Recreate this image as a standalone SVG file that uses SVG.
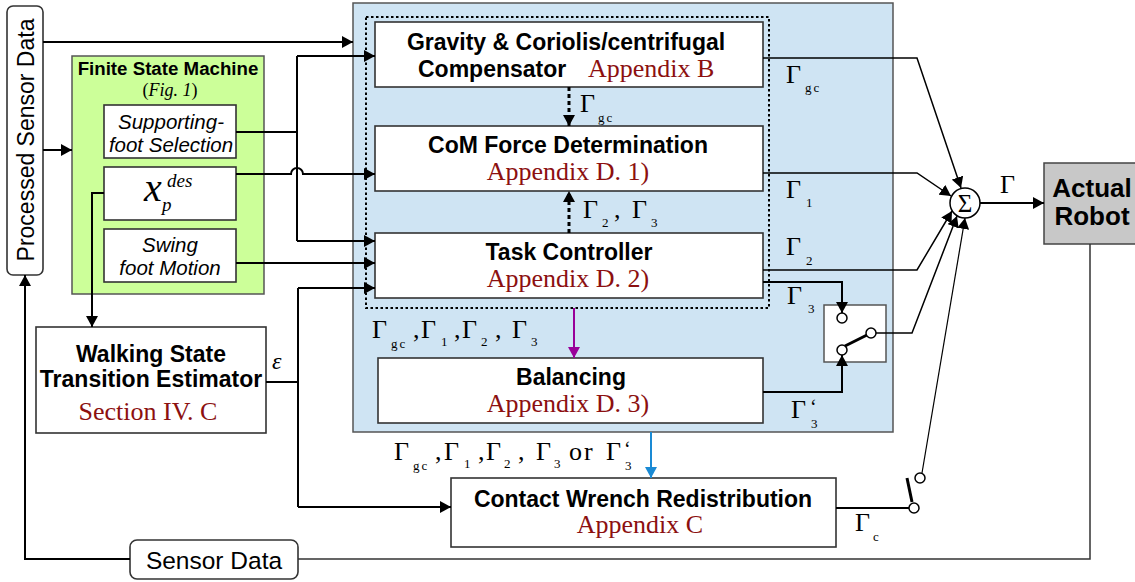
<svg xmlns="http://www.w3.org/2000/svg" width="1135" height="582" viewBox="0 0 1135 582">
<style>
.box{fill:#fff;stroke:#333;stroke-width:1.6}
.t{font-family:"Liberation Sans",Arial,sans-serif;font-weight:bold;font-size:23px;fill:#000;text-anchor:middle}
.r{font-family:"Liberation Serif","Times New Roman",serif;font-size:26px;fill:#8c1010;text-anchor:middle}
.it{font-family:"Liberation Sans",Arial,sans-serif;font-style:italic;font-size:20.5px;fill:#000;text-anchor:middle}
.g{font-family:"Liberation Serif","Times New Roman",serif;font-size:26px;fill:#000}
.s{font-size:13px;letter-spacing:2px}
.ln{fill:none;stroke:#000;stroke-width:2}
.thin{fill:none;stroke:#000;stroke-width:1.5}
.sw{fill:#fff;stroke:#000;stroke-width:1.5}
</style>
<defs>
<marker id="a" markerUnits="userSpaceOnUse" markerWidth="12" markerHeight="12" refX="11" refY="6" orient="auto"><path d="M0,0 L11,6 L0,12 z" fill="#000"/></marker>
<marker id="ap" markerUnits="userSpaceOnUse" markerWidth="12" markerHeight="12" refX="11" refY="6" orient="auto"><path d="M0,0 L11,6 L0,12 z" fill="#990099"/></marker>
<marker id="ab" markerUnits="userSpaceOnUse" markerWidth="12" markerHeight="12" refX="11" refY="6" orient="auto"><path d="M0,0 L11,6 L0,12 z" fill="#1a8ad4"/></marker>
</defs>
<rect width="1135" height="582" fill="#fff"/>

<g id="controller-frame">
<rect x="353" y="3" width="540" height="429" fill="#cfe4f3" stroke="#555" stroke-width="1.5"/>
<rect x="366" y="17" width="403" height="291" fill="none" stroke="#000" stroke-width="2" stroke-dasharray="2.5,2.5"/>
</g>

<g id="processed-sensor-data">
<rect x="7" y="6" width="36" height="269" rx="6" class="box"/>
<text transform="translate(34,140) rotate(-90)" font-family="Liberation Sans,Arial,sans-serif" font-size="23" text-anchor="middle">Processed Sensor Data</text>
</g>

<g id="fsm">
<rect x="72" y="56" width="192" height="238" fill="#ccff99" stroke="#555" stroke-width="1.5"/>
<text x="168" y="75" class="t" style="font-size:18.7px">Finite State Machine</text>
<text x="170" y="96" font-family="Liberation Serif,Times New Roman,serif" font-size="18" text-anchor="middle">(<tspan font-style="italic">Fig. 1</tspan>)</text>
</g>
<g id="supporting-foot">
<rect x="104" y="105" width="132" height="53" class="box"/>
<text x="171" y="129" class="it">Supporting-</text>
<text x="171" y="152" class="it">foot Selection</text>
</g>
<g id="xpdes">
<rect x="104" y="167" width="132" height="53" class="box"/>
<text x="144" y="201" font-family="Liberation Serif,Times New Roman,serif" font-style="italic" font-size="40">x</text>
<text x="167" y="187" font-family="Liberation Serif,Times New Roman,serif" font-style="italic" font-size="19">des</text>
<text x="162" y="211" font-family="Liberation Serif,Times New Roman,serif" font-style="italic" font-size="19">p</text>
</g>
<g id="swing-foot">
<rect x="104" y="229" width="132" height="53" class="box"/>
<text x="170" y="252" class="it">Swing</text>
<text x="170" y="275" class="it">foot Motion</text>
</g>

<g id="walking-state">
<rect x="36" y="327" width="230" height="106" class="box"/>
<text x="151" y="362" class="t">Walking State</text>
<text x="151" y="387" class="t">Transition Estimator</text>
<text x="148" y="420" class="r">Section IV. C</text>
</g>

<g id="sensor-data">
<rect x="130" y="540" width="168" height="39" rx="7" class="box"/>
<text x="214" y="569" font-family="Liberation Sans,Arial,sans-serif" font-size="24.5" text-anchor="middle">Sensor Data</text>
</g>

<g id="gravity">
<rect x="375" y="22" width="388" height="65" class="box"/>
<text x="566" y="50" class="t">Gravity &amp; Coriolis/centrifugal</text>
<text x="418" y="77" class="t" style="text-anchor:start">Compensator</text>
<text x="588" y="77" class="r" style="text-anchor:start">Appendix B</text>
</g>
<g id="com-force">
<rect x="375" y="126" width="388" height="65" class="box"/>
<text x="568" y="153" class="t">CoM Force Determination</text>
<text x="568" y="180" class="r">Appendix D. 1)</text>
</g>
<g id="task-controller">
<rect x="375" y="233" width="388" height="65" class="box"/>
<text x="569" y="260" class="t">Task Controller</text>
<text x="568" y="287" class="r">Appendix D. 2)</text>
</g>
<g id="balancing">
<rect x="378" y="358" width="385" height="65" class="box"/>
<text x="571" y="385" class="t">Balancing</text>
<text x="568" y="412" class="r">Appendix D. 3)</text>
</g>
<g id="contact-wrench">
<rect x="451" y="478" width="385" height="69" class="box"/>
<text x="643" y="507" class="t">Contact Wrench Redistribution</text>
<text x="640" y="533" class="r">Appendix C</text>
</g>
<g id="sum">
<circle cx="965" cy="203" r="15" fill="#fff" stroke="#000" stroke-width="1.5"/>
<text x="965" y="212" font-family="Liberation Serif,Times New Roman,serif" font-size="25" text-anchor="middle">Σ</text>
</g>
<g id="actual-robot">
<rect x="1044" y="163" width="100" height="81" fill="#c8c8c8" stroke="#444" stroke-width="1.5"/>
<text x="1092" y="197" class="t" style="font-size:26px">Actual</text>
<text x="1092" y="225" class="t" style="font-size:26px">Robot</text>
</g>
<g id="switch-1">
<rect x="824" y="305" width="62" height="57" fill="#fff" stroke="#555" stroke-width="1.5"/>
<line x1="845" y1="346" x2="867" y2="335" stroke="#000" stroke-width="3"/>
<circle cx="842" cy="318" r="5" class="sw"/>
<circle cx="842" cy="350" r="5" class="sw"/>
<circle cx="871" cy="333" r="5" class="sw"/>
</g>
<g id="switch-2">
<line x1="907" y1="478" x2="912" y2="502" stroke="#000" stroke-width="3"/>
<circle cx="914" cy="508" r="5" class="sw"/>
<circle cx="920" cy="478" r="5" class="sw"/>
</g>

<g id="connectors">
<path class="ln" d="M43,42 H353" marker-end="url(#a)"/>
<path class="ln" d="M43,150 H72" marker-end="url(#a)"/>
<path class="ln" d="M236,132 H297"/>
<path class="ln" d="M297,56 V241"/>
<path class="ln" d="M297,56 H375" marker-end="url(#a)"/>
<path class="ln" d="M297,241 H375" marker-end="url(#a)"/>
<path class="ln" d="M236,174 H291 A6,6 0 0 1 303,174 H375" marker-end="url(#a)"/>
<path class="ln" d="M236,263 H375" marker-end="url(#a)"/>
<path class="ln" d="M104,193 H92 V327" marker-end="url(#a)"/>
<path class="ln" d="M266,382 H298"/>
<path class="ln" d="M298,288 V507"/>
<path class="ln" d="M298,288 H375" marker-end="url(#a)"/>
<path class="ln" d="M298,507 H451" marker-end="url(#a)"/>
<path class="ln" d="M130,559 H25 V275" marker-end="url(#a)"/>
<path d="M298,559 H1090 V244" fill="none" stroke="#333" stroke-width="1.5"/>
<path d="M569,87 V126" stroke="#000" stroke-width="3" stroke-dasharray="4,3" fill="none" marker-end="url(#a)"/>
<path d="M569,233 V191" stroke="#000" stroke-width="3" stroke-dasharray="4,3" fill="none" marker-end="url(#a)"/>
<path d="M574,308 V358" stroke="#990099" stroke-width="2" fill="none" marker-end="url(#ap)"/>
<path d="M651,432 V478" stroke="#1a8ad4" stroke-width="2" fill="none" marker-end="url(#ab)"/>
<path class="thin" d="M763,58 H917 L961,188" marker-end="url(#a)"/>
<path class="thin" d="M763,173 H917 L951,196" marker-end="url(#a)"/>
<path class="thin" d="M763,270 H917 L952,211" marker-end="url(#a)"/>
<path class="ln" d="M763,282 H842 V313" marker-end="url(#a)"/>
<path class="ln" d="M763,392 H842 V355" marker-end="url(#a)"/>
<path class="thin" d="M876,333 H912 L957,216" marker-end="url(#a)"/>
<path class="ln" d="M836,508 H909"/>
<path d="M922,473 L965,218" fill="none" stroke="#000" stroke-width="1.2" marker-end="url(#a)"/>
<path class="ln" d="M980,203 H1044" marker-end="url(#a)"/>
</g>

<g id="labels">
<text class="g" x="580" y="112">Γ<tspan class="s" x="598" y="122">gc</tspan></text>
<text class="g" x="583" y="218">Γ<tspan class="s" x="602" y="227">2</tspan><tspan x="614" y="218">,</tspan><tspan x="632" y="218">Γ</tspan><tspan class="s" x="651" y="227">3</tspan></text>
<text class="g" x="786" y="83">Γ<tspan class="s" x="805" y="92">gc</tspan></text>
<text class="g" x="786" y="198">Γ<tspan class="s" x="806" y="207">1</tspan></text>
<text class="g" x="786" y="255">Γ<tspan class="s" x="806" y="265">2</tspan></text>
<text class="g" x="787" y="304">Γ<tspan class="s" x="808" y="313">3</tspan></text>
<text class="g" x="791" y="418">Γ<tspan x="810" y="414" font-size="20">‘</tspan><tspan class="s" x="811" y="428">3</tspan></text>
<text class="g" x="855" y="531">Γ<tspan class="s" x="873" y="541">c</tspan></text>
<text class="g" x="1000" y="193">Γ</text>
<text x="272" y="369" font-family="Liberation Serif,Times New Roman,serif" font-style="italic" font-size="24">ε</text>
<text class="g" x="372" y="338">Γ<tspan class="s" x="391" y="348">gc</tspan><tspan x="413" y="338">,</tspan><tspan x="421" y="338">Γ</tspan><tspan class="s" x="441" y="346">1</tspan><tspan x="454" y="338">,</tspan><tspan x="462" y="338">Γ</tspan><tspan class="s" x="481" y="346">2</tspan><tspan x="495" y="338">,</tspan><tspan x="512" y="338">Γ</tspan><tspan class="s" x="531" y="346">3</tspan></text>
<text class="g" x="394" y="460">Γ<tspan class="s" x="413" y="470">gc</tspan><tspan x="435" y="460">,</tspan><tspan x="444" y="460">Γ</tspan><tspan class="s" x="464" y="468">1</tspan><tspan x="478" y="460">,</tspan><tspan x="486" y="460">Γ</tspan><tspan class="s" x="504" y="468">2</tspan><tspan x="518" y="460">,</tspan><tspan x="536" y="460">Γ</tspan><tspan class="s" x="554" y="468">3</tspan><tspan x="569" y="460" letter-spacing="2">or</tspan><tspan x="606" y="460">Γ</tspan><tspan x="624" y="456" font-size="20">‘</tspan><tspan class="s" x="625" y="470">3</tspan></text>
</g>
</svg>
